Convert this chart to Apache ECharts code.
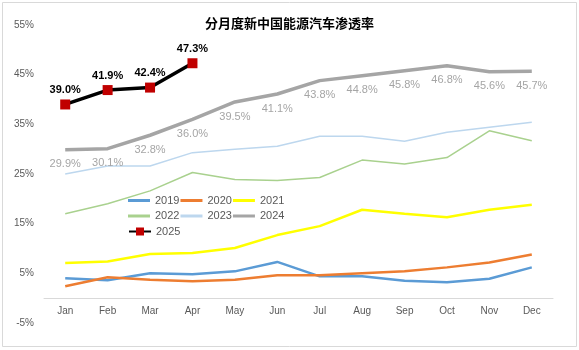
<!DOCTYPE html>
<html><head><meta charset="utf-8">
<script src="https://cdn.jsdelivr.net/npm/echarts@6/dist/echarts.min.js"></script>
<style>html,body{margin:0;padding:0;background:#fff}#c{width:579px;height:350px}</style>
</head><body><div id="c"></div>
<script>
var months = ['Jan','Feb','Mar','Apr','May','Jun','Jul','Aug','Sep','Oct','Nov','Dec'];
var yTicks = [-5, 5, 15, 25, 35, 45, 55];
var s2019 = [4.0, 3.6, 5.0, 4.8, 5.4, 7.3, 4.4, 4.4, 3.5, 3.2, 3.9, 6.2];
var s2020 = [2.4, 4.2, 3.7, 3.4, 3.7, 4.6, 4.6, 5.0, 5.4, 6.2, 7.2, 8.8];
var s2021 = [7.1, 7.4, 8.9, 9.1, 10.1, 12.7, 14.5, 17.8, 17.0, 16.3, 17.8, 18.8];
var s2022 = [17.0, 19.0, 21.6, 25.3, 23.9, 23.7, 24.3, 27.8, 27.0, 28.3, 33.7, 31.7];
var s2023 = [25.0, 26.6, 26.6, 29.3, 30.0, 30.6, 32.6, 32.6, 31.6, 33.4, 34.4, 35.4];
var s2024 = [29.9, 30.1, 32.8, 36.0, 39.5, 41.1, 43.8, 44.8, 45.8, 46.8, 45.6, 45.7];
var s2025 = [39.0, 41.9, 42.4, 47.3];

var chart = echarts.init(document.getElementById('c'), null, {renderer: 'canvas'});
function line(name, data, color, width) {
  return {name: name, type: 'line', data: data, symbol: 'none', smooth: false,
    lineStyle: {color: color, width: width}, itemStyle: {color: color}, z: 2};
}
var legendText = {color: '#595959', fontSize: 11};
var lg = {left: 128, itemWidth: 22, itemHeight: 3, itemGap: 1, textStyle: legendText, padding: 0};
chart.setOption({
  animation: false,
  backgroundColor: '#fff',
  title: {text: '分月度新中国能源汽车渗透率', left: 'center', top: 12,
    textStyle: {fontSize: 13, fontWeight: 'bold', color: '#000', fontFamily: 'Noto Sans CJK SC'}},
  graphic: [{type: 'rect', shape: {x: 2.5, y: 2.5, width: 574, height: 344},
    style: {fill: 'none', stroke: '#d9d9d9', lineWidth: 1}, silent: true}],
  grid: {left: 44, right: 26, top: 25, bottom: 27},
  legend: [
    Object.assign({}, lg, {top: 195, data: ['2019','2020','2021'].map(function(n){return {name: n, icon: 'rect'};})}),
    Object.assign({}, lg, {top: 210.5, data: ['2022','2023','2024'].map(function(n){return {name: n, icon: 'rect'};})}),
    Object.assign({}, lg, {top: 226, itemHeight: 10, data: ['2025']})
  ],
  xAxis: {type: 'category', data: months, boundaryGap: true,
    axisLine: {onZero: true, lineStyle: {color: '#d9d9d9'}}, axisTick: {show: false},
    axisLabel: {color: '#595959', fontSize: 10, margin: -17}},
  yAxis: {type: 'value', min: yTicks[0], max: yTicks[yTicks.length-1], interval: 10,
    axisLine: {show: false}, axisTick: {show: false}, splitLine: {show: false},
    axisLabel: {color: '#595959', fontSize: 10, margin: 10, formatter: '{value}%'}},
  series: [
    line('2019', s2019, '#5b9bd5', 2.5),
    line('2020', s2020, '#ed7d31', 2.5),
    line('2021', s2021, '#ffff00', 2.5),
    line('2022', s2022, '#a9d18e', 1.5),
    line('2023', s2023, '#bdd7ee', 1.5),
    Object.assign(line('2024', s2024, '#a5a5a5', 3.5), {
      symbol: 'circle', symbolSize: 0, showSymbol: true,
      label: {show: true, position: 'bottom', distance: 9, color: '#a5a5a5', fontSize: 11,
        formatter: function(p){return p.value.toFixed(1) + '%';}}}),
    {name: '2025', type: 'line', data: s2025, symbol: 'rect', symbolSize: 10,
      lineStyle: {color: '#000', width: 3.5}, itemStyle: {color: '#c00000'}, z: 5,
      label: {show: true, position: 'top', distance: 4, color: '#000', fontSize: 11, fontWeight: 'bold',
        formatter: function(p){return p.value.toFixed(1) + '%';}}}
  ]
});
</script></body></html>
